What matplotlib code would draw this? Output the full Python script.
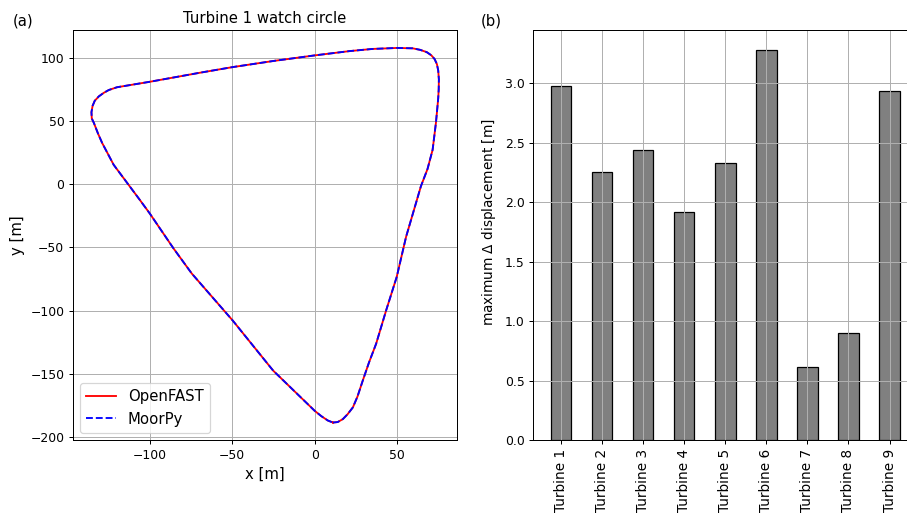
import numpy as np
import matplotlib
matplotlib.use("Agg")
import matplotlib.pyplot as plt

# watch circle of turbine 1, closed loop
wc_x = [11.1, 14.0, 17.1, 20.0, 23.2, 26.0, 29.2, 33.0, 37.3, 43.4, 49.8, 55.5,
        64.5, 68.5, 71.6, 73.6, 74.3, 75.0, 75.3, 75.4, 75.0, 74.2, 72.8, 70.8,
        68.0, 64.0, 59.5, 50.0, 35.0, 21.2, 0.0, -25.0, -50.0, -69.6, -100.2,
        -120.0, -125.0, -128.0, -131.0, -133.5, -134.8, -135.5, -135.3, -134.0,
        -131.5, -129.0, -122.0, -106.9, -100.2, -85.7, -74.6, -49.8, -25.2,
        0.0, 4.0, 8.0, 11.1]
wc_y = [-188.6, -188.2, -185.9, -182.0, -176.6, -168.0, -155.4, -141.0, -126.3,
        -99.8, -73.4, -41.6, -1.6, 12.0, 27.2, 48.4, 58.0, 68.0, 75.0, 83.0,
        90.0, 95.0, 99.0, 102.0, 104.5, 106.3, 107.5, 107.8, 107.0, 105.3,
        101.9, 97.5, 92.6, 88.2, 81.0, 76.7, 74.5, 72.3, 69.5, 66.0, 62.0,
        57.0, 52.0, 48.4, 40.0, 32.6, 15.3, -11.1, -23.0, -50.8, -70.7,
        -107.8, -147.5, -179.3, -183.5, -187.0, -188.6]

turbines = ["Turbine 1", "Turbine 2", "Turbine 3", "Turbine 4", "Turbine 5",
            "Turbine 6", "Turbine 7", "Turbine 8", "Turbine 9"]
max_disp = [2.975, 2.25, 2.438, 1.915, 2.332, 3.282, 0.612, 0.903, 2.933]

DPI = 89
fig = plt.figure(figsize=(908 / DPI, 518 / DPI), dpi=DPI)

# ------------------------
# (a) watch circle
# ------------------------
ax1 = fig.add_axes([0.0804, 0.1506, 0.4229, 0.7915])
ax1.plot(wc_x, wc_y, color='red', label='OpenFAST')
ax1.plot(wc_x, wc_y, color='blue', linestyle='--', label='MoorPy')
ax1.set_xlim(-146.7, 86.4)
ax1.set_ylim(-202.4, 122.0)
ax1.set_xlabel("x [m]", fontsize=12)
ax1.set_ylabel("y [m]", fontsize=12)
ax1.set_title("Turbine 1 watch circle", fontsize=12)
ax1.grid(True)
ax1.legend(loc='lower left', fontsize=12)

# ------------------------
# (b) max displacement per turbine
# ------------------------
ax2 = fig.add_axes([0.5873, 0.1506, 0.4229, 0.7915])
ax2.bar(np.arange(len(turbines)), max_disp, width=0.5, color='gray', edgecolor='black')
ax2.set_xticks(np.arange(len(turbines)))
ax2.set_xticklabels(turbines, rotation=90, fontsize=11)
ax2.set_ylabel(r"maximum $\Delta$ displacement [m]", fontsize=11)
ax2.yaxis.set_label_coords(-0.0906, 0.53)
ax2.grid(True)

fig.text(0.014, 0.960, "(a)", fontsize=12, va='center')
fig.text(0.5297, 0.960, "(b)", fontsize=12, va='center')

fig.savefig("out.png", dpi=DPI)
